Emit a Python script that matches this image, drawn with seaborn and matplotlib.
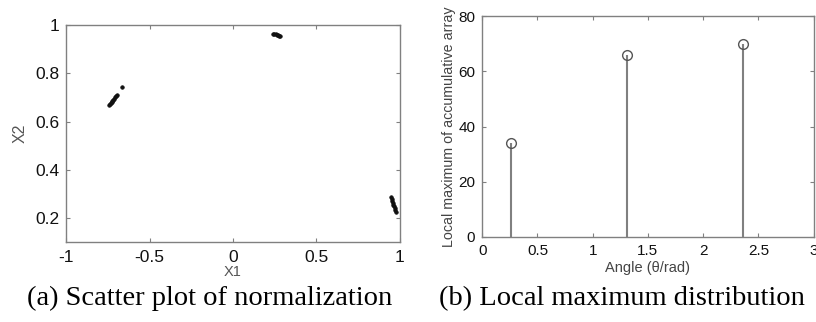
import matplotlib
matplotlib.use("Agg")
import matplotlib.pyplot as plt
import seaborn as sns
import pandas as pd
import numpy as np

# Scatter clusters
x1_vals = [-0.743, -0.738, -0.732, -0.727, -0.722, -0.716, -0.712, -0.706, -0.700, -0.696, -0.663,
           0.241, 0.248, 0.255, 0.262, 0.268, 0.275, 0.281,
           0.950, 0.953, 0.956, 0.959, 0.962, 0.965, 0.968, 0.971, 0.974]
x2_vals = [0.668, 0.672, 0.677, 0.682, 0.686, 0.691, 0.695, 0.700, 0.705, 0.710, 0.744,
           0.965, 0.963, 0.962, 0.960, 0.958, 0.956, 0.954,
           0.288, 0.280, 0.272, 0.264, 0.256, 0.249, 0.241, 0.233, 0.225]

# Stem data
angles = [0.26, 1.31, 2.36]
local_max = [34, 66, 70]

sns.set_theme(style="white")
plt.rcParams['font.family'] = ['Liberation Sans', 'DejaVu Sans']

fig = plt.figure(figsize=(8.16, 3.22), dpi=100)
axL = fig.add_axes([0.081, 0.248, 0.409, 0.674])
axR = fig.add_axes([0.591, 0.264, 0.406, 0.686])

spine_col = "#808080"
df = pd.DataFrame({"X1": x1_vals, "X2": x2_vals})
sns.scatterplot(data=df, x="X1", y="X2", ax=axL, color="#111111", s=7, edgecolor="#111111", linewidth=0.4)
axL.set_xlim(-1, 1)
axL.set_ylim(0.1, 1)
axL.set_xticks([-1, -0.5, 0, 0.5, 1])
axL.set_xticklabels(["-1", "-0.5", "0", "0.5", "1"])
axL.set_yticks([0.2, 0.4, 0.6, 0.8, 1])
axL.set_yticklabels(["0.2", "0.4", "0.6", "0.8", "1"])
axL.set_xlabel("X1", color="#555555", fontsize=10.5, labelpad=0)
axL.set_ylabel("X2", color="#555555", fontsize=11.5, labelpad=5)

markerline, stemlines, baseline = axR.stem(angles, local_max, basefmt=" ")
plt.setp(stemlines, color="#808080", linewidth=1.5)
plt.setp(markerline, marker="o", markersize=7, markerfacecolor="none",
         markeredgecolor="#555555", markeredgewidth=1.0)
axR.set_xlim(0, 3)
axR.set_ylim(0, 80)
axR.set_xticks([0, 0.5, 1, 1.5, 2, 2.5, 3])
axR.set_xticklabels(["0", "0.5", "1", "1.5", "2", "2.5", "3"])
axR.set_yticks([0, 20, 40, 60, 80])
axR.set_xlabel("Angle (\u03b8/rad)", color="#444444", fontsize=10.5, labelpad=2)
axR.set_ylabel("Local maximum of accumulative array", color="#444444", fontsize=10.3, labelpad=2)

for ax in (axL, axR):
    for sp in ax.spines.values():
        sp.set_color(spine_col)
        sp.set_linewidth(1.0)
    ax.tick_params(direction="in", length=3, width=0.8, color=spine_col,
                   top=True, right=True, bottom=True, left=True,
                   labelsize=12.5, labelcolor="#111111", pad=5)

axL.tick_params(axis="x", pad=6)
axR.tick_params(labelsize=11)

fig.text(0.257, 0.074, "(a) Scatter plot of normalization", ha="center", va="center",
         fontsize=20.5, family=["Liberation Serif", "DejaVu Serif"], color="black")
fig.text(0.762, 0.074, "(b) Local maximum distribution", ha="center", va="center",
         fontsize=20.5, family=["Liberation Serif", "DejaVu Serif"], color="black")

fig.savefig("out.png", dpi=100)
